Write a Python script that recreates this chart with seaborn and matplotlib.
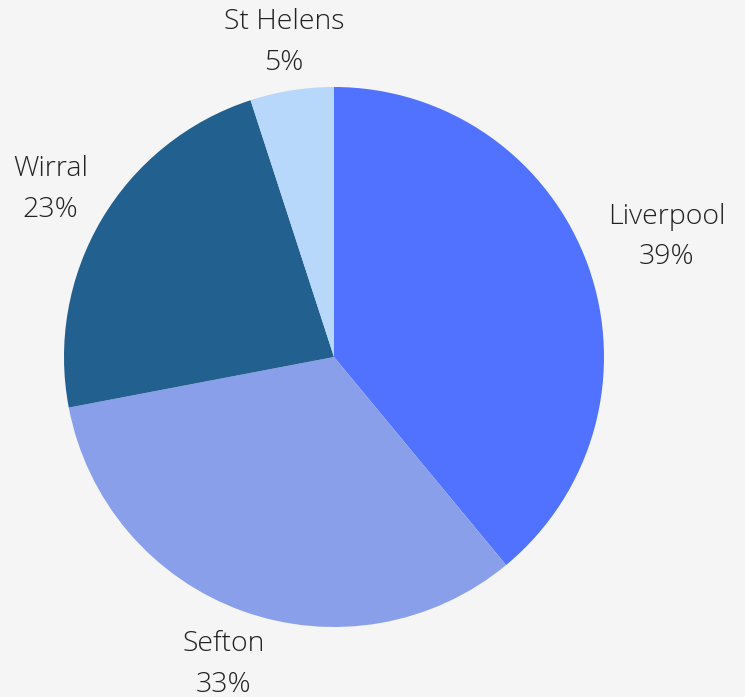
import numpy as np
import matplotlib
matplotlib.use("Agg")
import matplotlib.pyplot as plt
import seaborn as sns

regions = ["Liverpool", "Sefton", "Wirral", "St Helens"]
shares = [39, 33, 23, 5]
colors = ["#5072FF", "#8A9FEA", "#22608F", "#B7D7FB"]
label_dist = [1.31, 1.21, 1.22, 1.18]

sns.set_style("white")
plt.rcParams["font.family"] = ["Open Sans", "DejaVu Sans"]

bg = "#F5F5F5"
fig = plt.figure(figsize=(7.45, 6.97), dpi=100, facecolor=bg)
ax = fig.add_axes([64 / 745, 70 / 697, 540 / 745, 540 / 697])
ax.set_facecolor(bg)

wedges, _ = ax.pie(shares, colors=colors, startangle=90, counterclock=False,
                   radius=1.0, wedgeprops=dict(linewidth=0))

for w, name, val, d in zip(wedges, regions, shares, label_dist):
    mid = np.deg2rad((w.theta1 + w.theta2) / 2)
    x, y = d * np.cos(mid), d * np.sin(mid)
    ax.text(x, y, f"{name}\n{val}%", ha="center", va="center",
            fontsize=20.5, fontweight="light", color="#222222",
            linespacing=1.6, clip_on=False)

ax.set_xlim(-1, 1)
ax.set_ylim(-1, 1)
ax.set_aspect("equal")
ax.axis("off")

fig.savefig("out.png", dpi=100, facecolor=bg)
